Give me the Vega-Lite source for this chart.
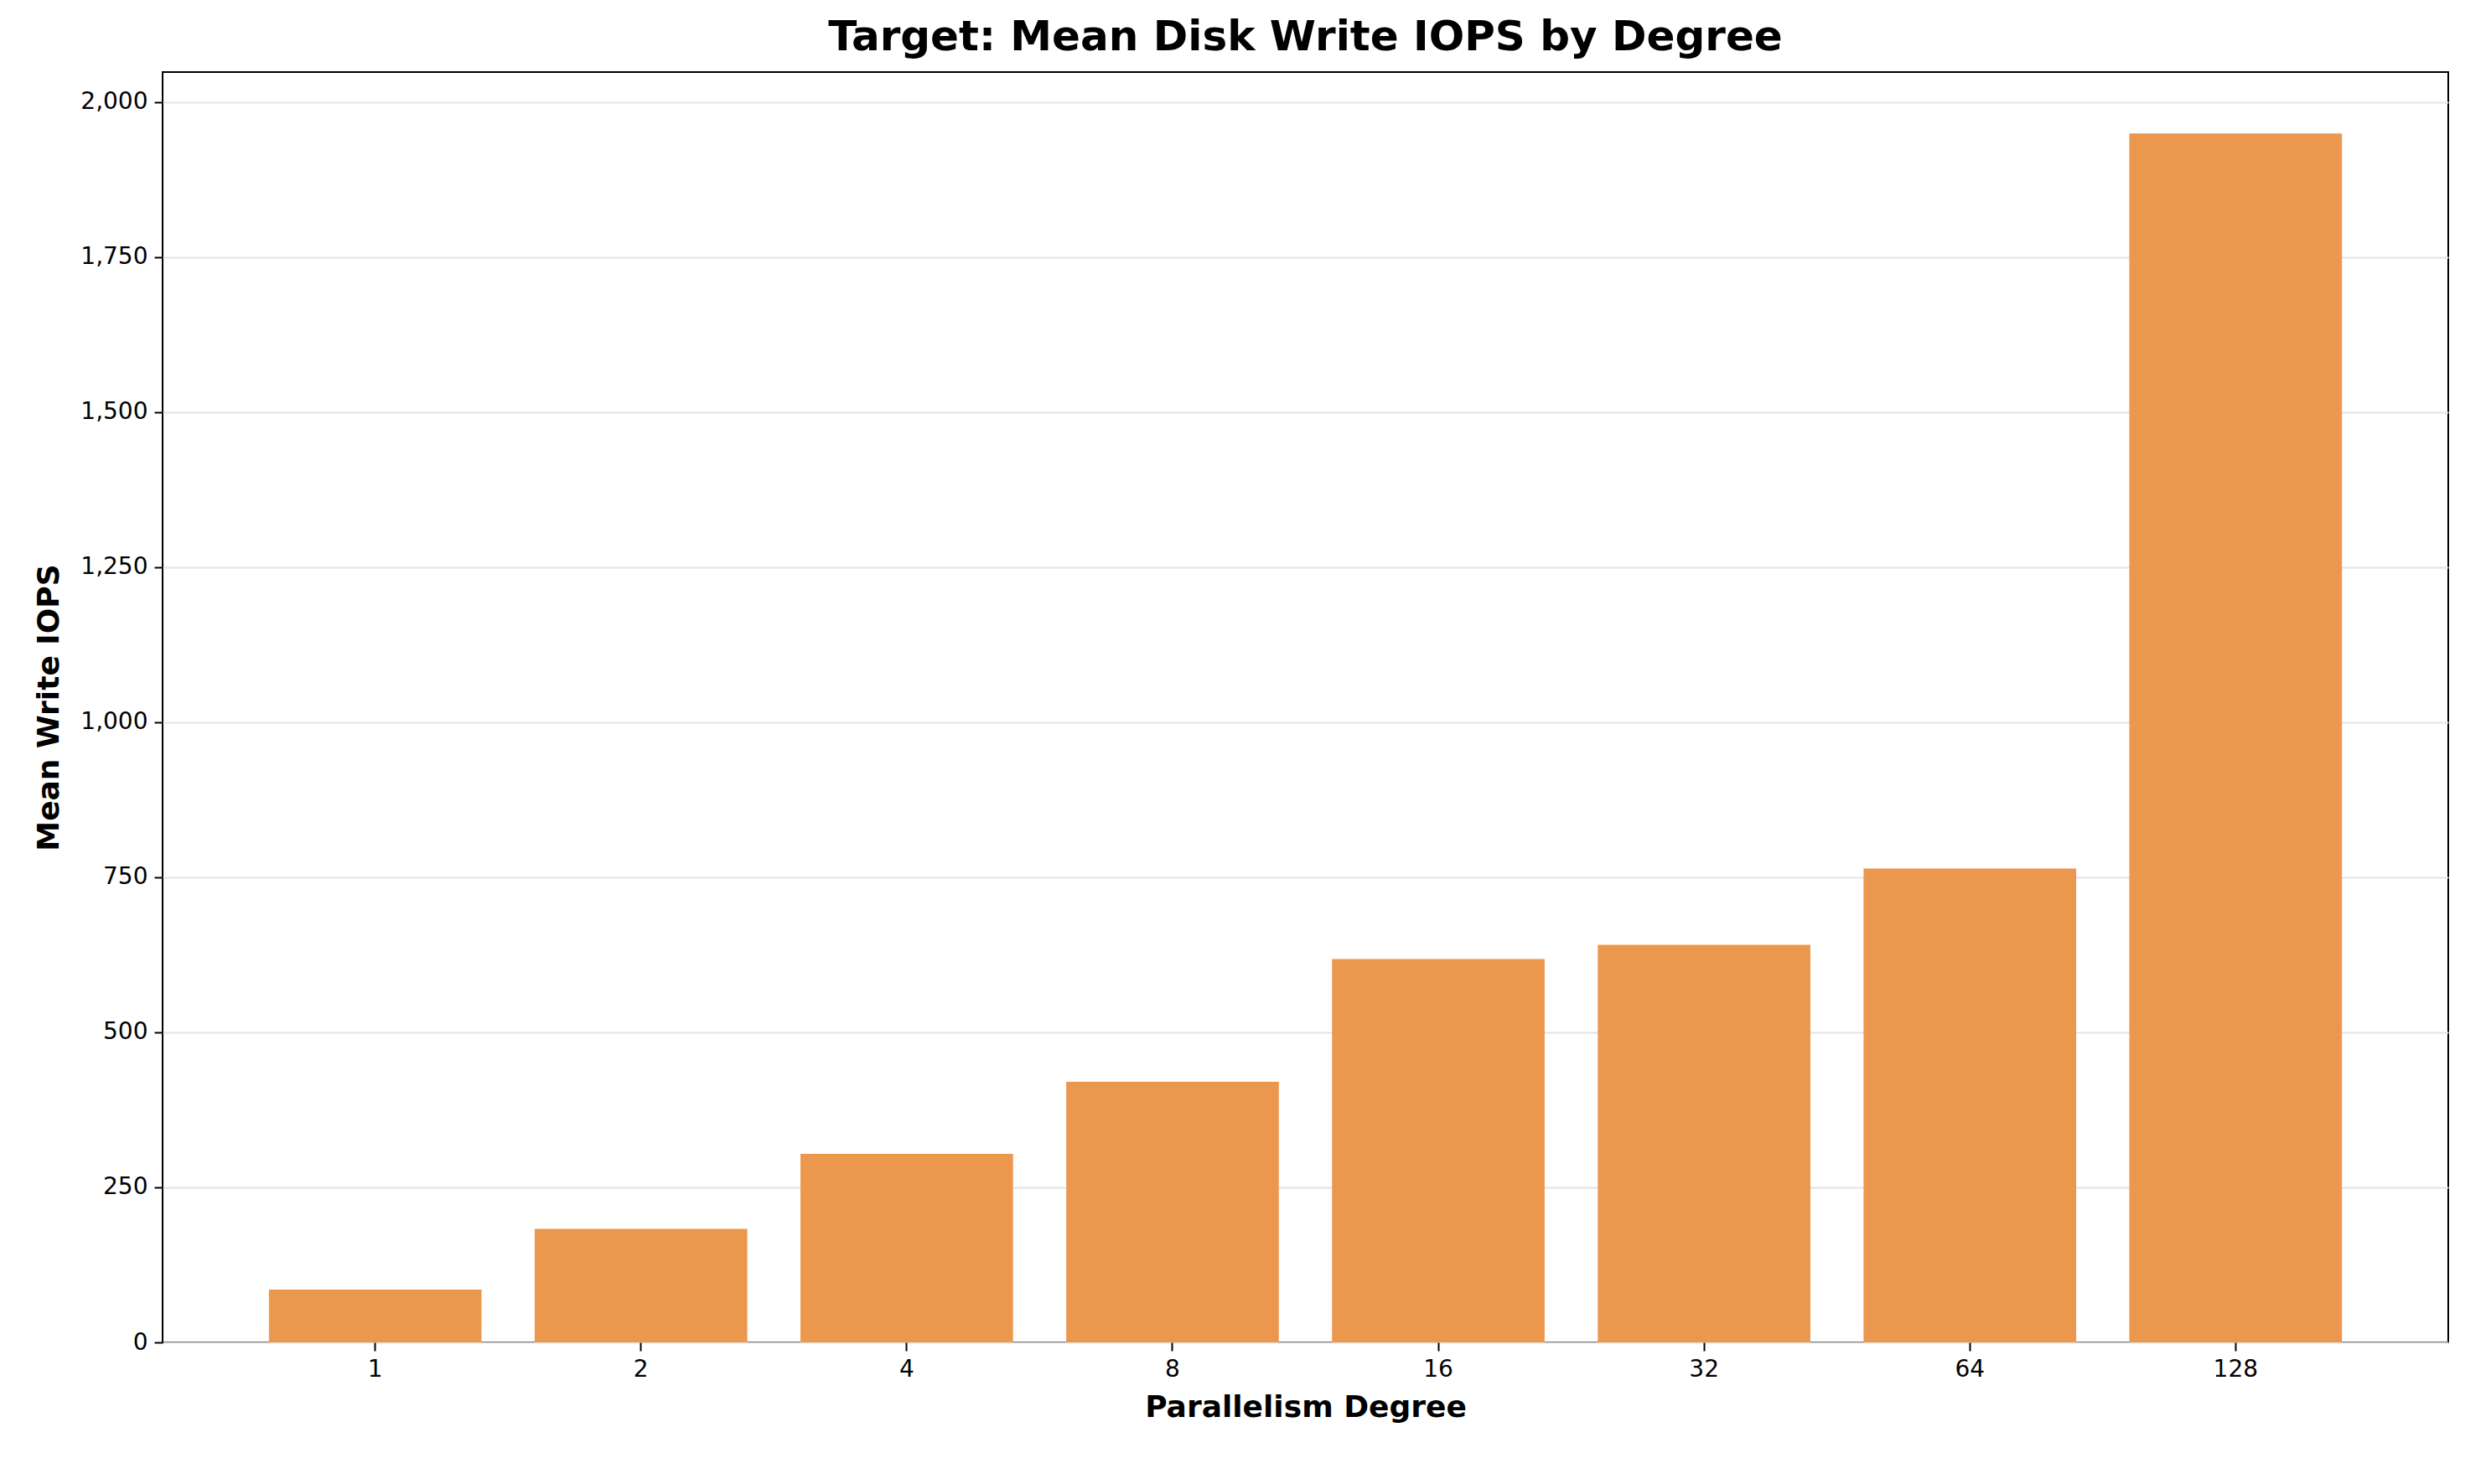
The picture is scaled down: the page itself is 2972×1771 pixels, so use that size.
{
  "$schema": "https://vega.github.io/schema/vega-lite/v6.json",
  "width": 2727,
  "height": 1516,
  "padding": {"left": 40, "top": 20, "right": 10, "bottom": 10},
  "background": "white",
  "title": {
    "text": "Target: Mean Disk Write IOPS by Degree",
    "fontSize": 50,
    "font": "DejaVu Sans",
    "fontWeight": "bold",
    "color": "black",
    "offset": 16
  },
  "config": {
    "view": {"stroke": "black", "strokeWidth": 2},
    "font": "DejaVu Sans"
  },
  "data": {
    "values": [
      {"degree": "1", "iops": 85},
      {"degree": "2", "iops": 183},
      {"degree": "4", "iops": 304},
      {"degree": "8", "iops": 420},
      {"degree": "16", "iops": 618},
      {"degree": "32", "iops": 641},
      {"degree": "64", "iops": 764},
      {"degree": "128", "iops": 1949}
    ]
  },
  "mark": {"type": "bar", "color": "#EB984E"},
  "encoding": {
    "x": {
      "field": "degree",
      "type": "ordinal",
      "sort": null,
      "title": "Parallelism Degree",
      "scale": {"paddingInner": 0.2, "paddingOuter": 0.4},
      "axis": {
        "labelAngle": 0,
        "labelFontSize": 28,
        "labelColor": "black",
        "titleFontSize": 36,
        "titleFontWeight": "bold",
        "titleColor": "black",
        "titlePadding": 14,
        "domain": false,
        "tickColor": "black",
        "tickSize": 10,
        "tickWidth": 2,
        "labelPadding": 8
      }
    },
    "y": {
      "field": "iops",
      "type": "quantitative",
      "title": "Mean Write IOPS",
      "scale": {"domain": [0, 2048], "nice": false},
      "axis": {
        "values": [0, 250, 500, 750, 1000, 1250, 1500, 1750, 2000],
        "labelFontSize": 28,
        "labelColor": "black",
        "titleFontSize": 36,
        "titleFontWeight": "bold",
        "titleColor": "black",
        "titlePadding": 18,
        "domain": false,
        "tickColor": "black",
        "tickSize": 10,
        "tickWidth": 2,
        "labelPadding": 8,
        "grid": true,
        "gridColor": "#e3e3e3",
        "gridWidth": 2
      }
    }
  }
}
